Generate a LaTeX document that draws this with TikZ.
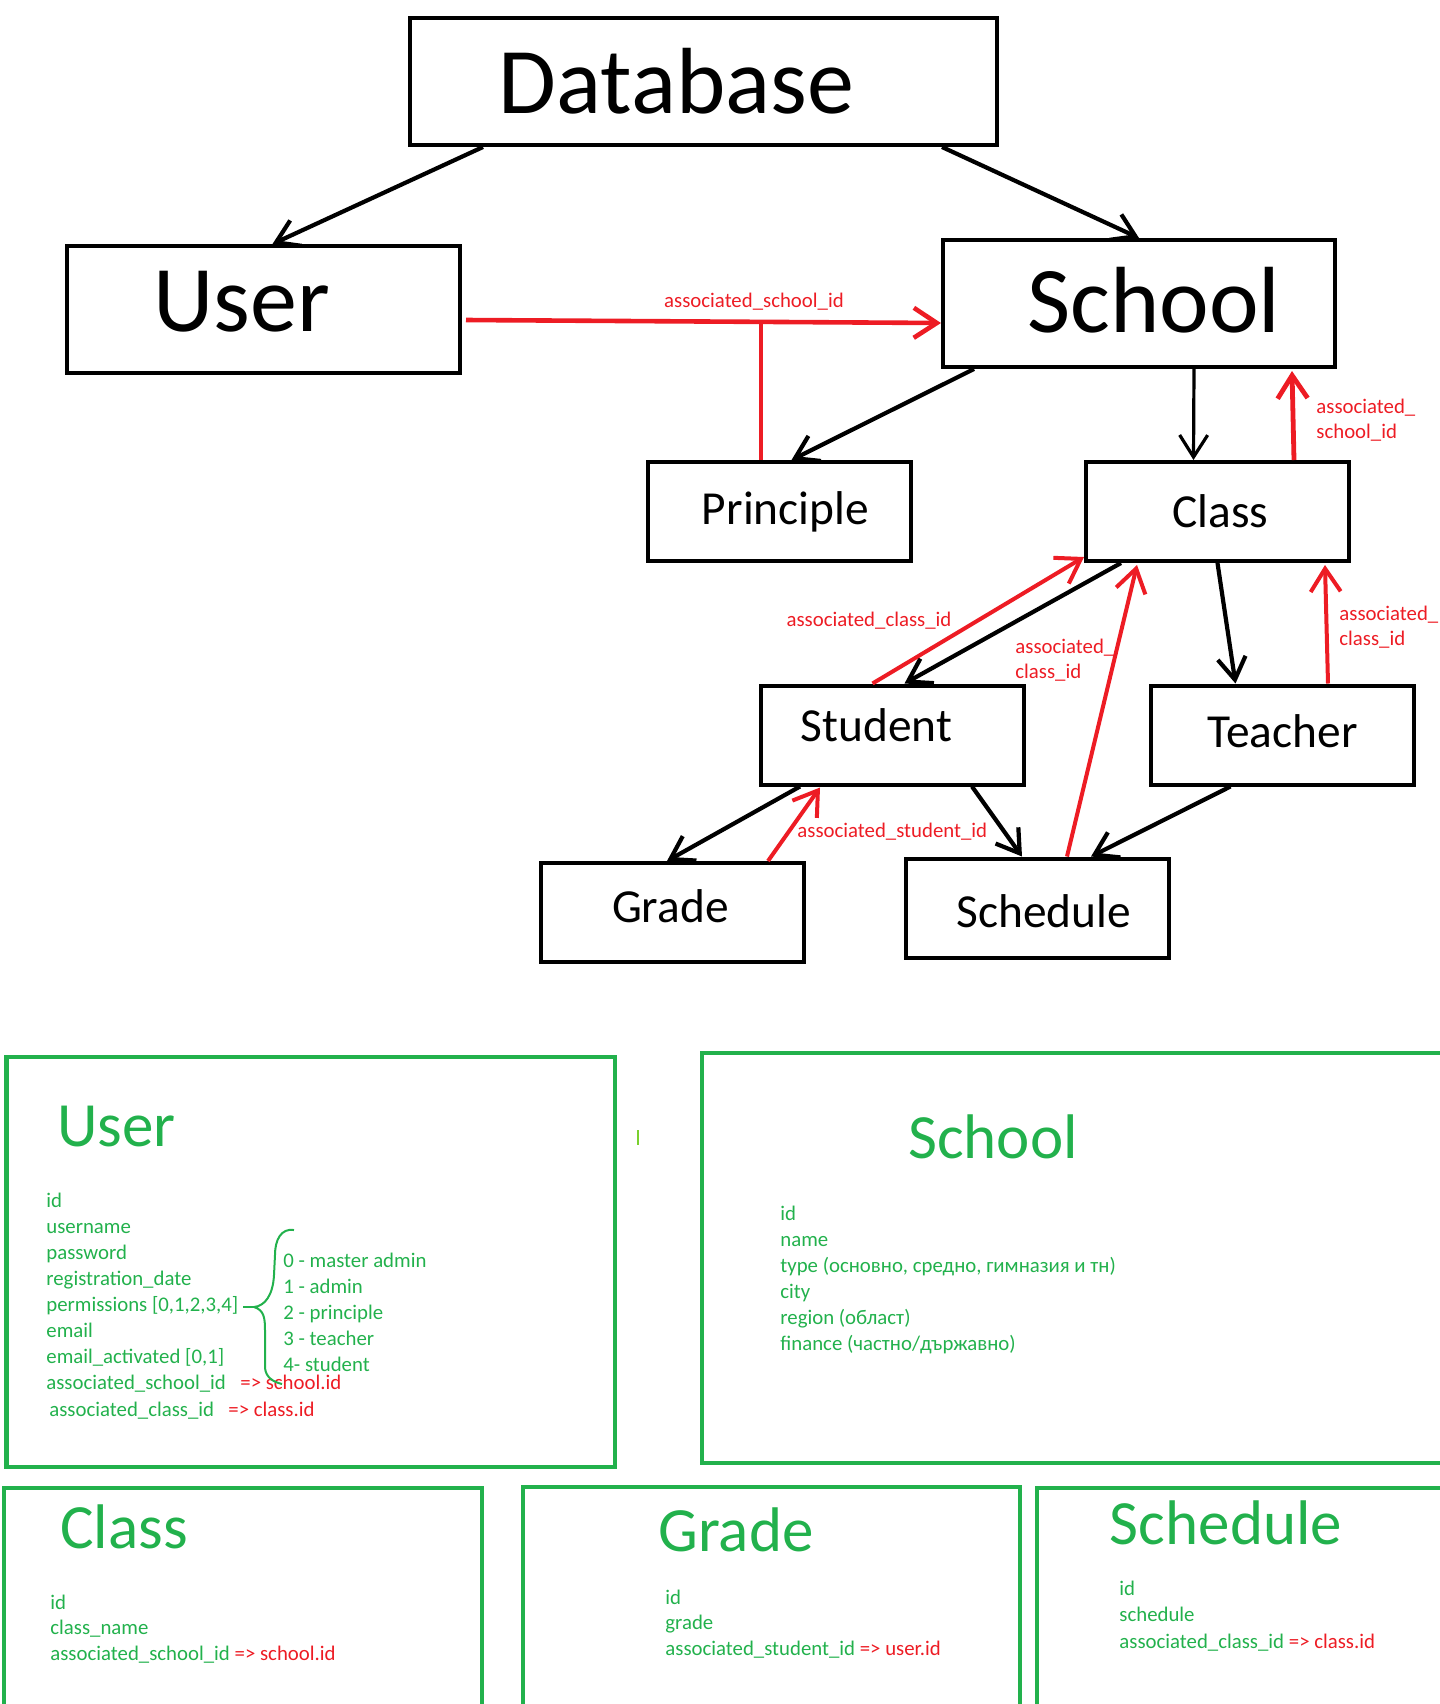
\documentclass[tikz,border=0pt]{standalone}
\usepackage{fontspec}
\setmainfont{Carlito}
\usetikzlibrary{arrows.meta,calc}
\definecolor{paintred}{RGB}{237,28,36}
\definecolor{paintgreen}{RGB}{34,177,76}
\tikzset{
  tbl/.style={draw=black,line width=2pt,inner sep=0pt,minimum width=131.5pt,minimum height=49.5pt},
  bigtbl/.style={tbl,minimum height=63.5pt},
  midtxt/.style={font=\fontsize{23.7}{28}\selectfont},
  bigtxt/.style={font=\fontsize{47}{56}\selectfont},
  arr/.style={line width=2.1pt,-{Straight Barb[length=11pt,width=14pt]}},
  fk/.style={paintred,line width=2pt,-{Straight Barb[length=11.5pt,width=15pt]}},
  fkline/.style={paintred,line width=1.7pt},
  fklbl/.style={text=paintred,inner sep=0pt,font=\fontsize{10.4}{12.5}\selectfont},
  gbox/.style={draw=paintgreen,line width=2.4pt},
  gline/.style={draw=paintgreen,line width=1pt},
  gtitle/.style={text=paintgreen,inner sep=0pt,font=\fontsize{31.5}{38}\selectfont},
  gfield/.style={text=paintgreen,inner sep=0pt,anchor=base west,font=\fontsize{10.4}{13}\selectfont}
}
\begin{document}
\begin{tikzpicture}[x=0.5pt,y=-0.5pt]
\clip (0,0) rectangle (1440,1704);

% tables
\node[bigtbl,minimum width=293.5pt,label={[bigtxt,xshift=-13.5pt]center:Database}] (db) at (703.5,81.5) {};
\node[bigtbl,minimum width=196.5pt,label={[bigtxt,xshift=-11pt,yshift=3.8pt]center:User}] (user) at (263.5,309.5) {};
\node[bigtbl,minimum width=196pt,label={[bigtxt,xshift=7.5pt,yshift=1.6pt]center:School}] (school) at (1139,303.5) {};
\node[tbl,label={[midtxt,xshift=3pt]center:Principle}] (pri) at (779.5,511.5) {};
\node[tbl,label={[midtxt,xshift=1.4pt]center:Class}] (cls) at (1217.5,511.5) {};
\node[tbl,label={[midtxt,xshift=-8pt,yshift=5pt]center:Student}] (stu) at (892.5,735) {};
\node[tbl,label={[midtxt,yshift=2pt]center:Teacher}] (tea) at (1282.5,735) {};
\node[tbl,label={[midtxt,xshift=-0.8pt,yshift=3pt]center:Grade}] (grd) at (672,912.5) {};
\node[tbl,label={[midtxt,xshift=3.3pt,yshift=-1.6pt]center:Schedule}] (sch) at (1037,908) {};

% hierarchy
\draw[arr] ($(db.south west)+(75,0)$) -- ($(user.north)+(9,0)$);
\draw[arr] ($(db.south east)+(-57,0)$) -- (school.north);
\draw[arr] ($(school.south west)+(33,0)$) -- ($(pri.north)+(12,0)$);
\draw[arr,line width=1.6pt] ($(school.south)+(55,0)$) -- ($(cls.north)+(-24,0)$);
\draw[arr] ($(cls.south west)+(37,0)$) -- ($(stu.north)+(12,0)$);
\draw[arr] (cls.south) -- ($(tea.north)+(-47,0)$);
\draw[arr] ($(stu.south west)+(41,0)$) -- ($(grd.north)+(-5,0)$);
\draw[arr] ($(stu.south east)+(-54,0)$) -- ($(sch.north)+(-15,0)$);
\draw[arr] ($(tea.south)+(-52,0)$) -- ($(sch.north)+(54,0)$);

% foreign keys
\draw[fk,line width=2.3pt] ($(user.east)+(4,10.5)$) -- ($(school.west)+(0,19.5)$);
\coordinate (jn) at (761,322);
\draw[fkline] (jn) -- (jn |- pri.north);
\draw[fk,line width=2.4pt] ($(cls.north east)+(-57,0)$) -- ($(school.south east)+(-45,2)$);
\draw[fk] ($(stu.north)+(-20,0)$) -- ($(cls.south west)+(0,-6)$);
\draw[fk] ($(sch.north)+(30,0)$) -- ($(cls.south west)+(53,2)$);
\draw[fk] ($(tea.north east)+(-88,0)$) -- ($(cls.south east)+(-26,2)$);
\draw[fk] ($(grd.north)+(96,0)$) -- ($(stu.south west)+(61,1)$);

\node[fklbl] (lsch) at (754,302) {associated\_school\_id};
\node[fklbl,anchor=west,align=left] (lcs) at (1316,420.5) {associated\_\\school\_id};
\node[fklbl] (lsc) at (869,621) {associated\_class\_id};
\node[fklbl,anchor=west,align=left] (lscc) at (1015,660) {associated\_\\class\_id};
\node[fklbl,anchor=west,align=left] (ltc) at (1339,627.5) {associated\_\\class\_id};
\node[fklbl,anchor=west] (lgs) at (797,832) {associated\_student\_id};

% field lists
\draw[gbox] (6.5,1057) rectangle (615,1467);
\draw[gbox] (702,1053) rectangle (1470,1463);
\draw[gbox] (4,1488) rectangle (482,1730);
\draw[gbox] (523,1487) rectangle (1020,1730);
\draw[gbox] (1037,1488) rectangle (1470,1730);
\draw[paintgreen!60!yellow,line width=1pt] (638,1130) -- (638,1145);

\node[gtitle,anchor=west] (tuser) at (57,1127) {User};
\foreach \f [count=\i] in {id,username,password,registration\_date,{permissions [0,1,2,3,4]},email,{email\_activated [0,1]}}
  \node[gfield] (uf\i) at (46,{1207+26.1*(\i-1)}) {\f};
\node[gfield] (uf8) at (46,1389.7) {associated\_school\_id};
\node[gfield,text=paintred] (uk8) at (240,1389.7) {=> school.id};
\node[gfield] (uf9) at (49,1416) {associated\_class\_id};
\node[gfield,text=paintred] (uk9) at (228,1416) {=> class.id};
\foreach \p [count=\i] in {0 - master admin,1 - admin,2 - principle,3 - teacher,4- student}
  \node[gfield] (up\i) at (283,{1267.7+26*(\i-1)}) {\p};
% brace
\draw[gline] (294,1230) .. controls (281,1228) and (275,1240) .. (275,1255) -- (274,1275)
  .. controls (273,1295) and (265,1306) .. (254,1307)
  .. controls (264,1310) and (265,1318) .. (265,1330) -- (265,1368)
  .. controls (266,1378) and (274,1382) .. (282,1384);
\draw[gline] (243,1307) -- (256,1307);

\node[gtitle] (tschool) at (993,1137) {School};
\foreach \f [count=\i] in {id,name,{type (основно, средно, гимназия и тн)},city,{region (област)},{finance (частно/държавно)}}
  \node[gfield] (sf\i) at (780,{1220+26*(\i-1)}) {\f};

\node[gtitle,anchor=west] (tclass) at (60,1527) {Class};
\foreach \f [count=\i] in {id,class\_name,{associated\_school\_id \textcolor{paintred}{=> school.id}}}
  \node[gfield] (cf\i) at (50,{1609+25.5*(\i-1)}) {\f};

\node[gtitle] (tgrade) at (736,1530) {Grade};
\foreach \f [count=\i] in {id,grade,{associated\_student\_id \textcolor{paintred}{=> user.id}}}
  \node[gfield] (gf\i) at (665,{1604+25.5*(\i-1)}) {\f};

\node[gtitle] (tsched) at (1226,1523) {Schedule};
\foreach \f [count=\i] in {id,schedule,{associated\_class\_id \textcolor{paintred}{=> class.id}}}
  \node[gfield] (hf\i) at (1119,{1595+26.5*(\i-1)}) {\f};
\end{tikzpicture}
\end{document}
